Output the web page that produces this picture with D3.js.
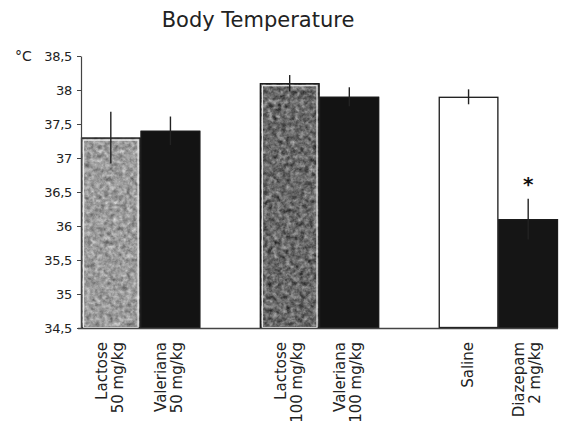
<!DOCTYPE html>
<html>
<head>
<meta charset="utf-8">
<script src="https://cdn.jsdelivr.net/npm/d3@7"></script>
<style>
  body { margin: 0; background: #fff; }
  svg { display: block; font-family: 'DejaVu Sans', sans-serif; }
</style>
</head>
<body>
<svg width="562" height="429"></svg>
<script>
//## DATA ##
const slots = ['l50', 'v50', 'gap1', 'l100', 'v100', 'gap2', 'saline', 'diazepam']
const groups = ['l50', 'v50', 'l100', 'v100', 'saline', 'diazepam']
const labels = [['Lactose', '50 mg/kg'], ['Valeriana', '50 mg/kg'], ['Lactose', '100 mg/kg'], ['Valeriana', '100 mg/kg'], ['Saline'], ['Diazepam', '2 mg/kg']]
const means = [37.3, 37.4, 38.1, 37.9, 37.9, 36.1]
const errors = [0.38, 0.21, 0.12, 0.14, 0.11, 0.3]
const significant = [false, false, false, false, false, true]
const yTicks = [34.5, 35, 35.5, 36, 36.5, 37, 37.5, 38, 38.5]

const data = groups.map((g, i) => ({ key: g, label: labels[i], mean: means[i], err: errors[i], sig: significant[i] }))

//## D3 VARIABLES ##
const svg = d3.select('svg')
const margin = { left: 81, right: 4, top: 56, bottom: 101 }
const width = 562
const height = 429
const baseY = height - margin.bottom

const styleOf = {
  l50: { fill: '#9c9c9c', filter: 'url(#noiseLight)', inner: true },
  v50: { fill: '#131313' },
  l100: { fill: '#6a6a6a', filter: 'url(#noiseDark)', inner: true },
  v100: { fill: '#131313' },
  saline: { fill: '#ffffff' },
  diazepam: { fill: '#151515' }
}

const scaleX = d3.scaleBand()
  .domain(slots)
  .range([margin.left, width - margin.right])
  .padding(0)

const scaleY = d3.scaleLinear()
  .domain([34.5, 38.5])
  .range([baseY, margin.top])

// grainy texture for the lactose bars
const defs = svg.append('defs')
const makeNoise = function(id, amount, seed) {
  const f = defs.append('filter').attr('id', id)
    .attr('x', 0).attr('y', 0).attr('width', 1).attr('height', 1)
    .attr('color-interpolation-filters', 'sRGB')
  f.append('feTurbulence').attr('type', 'fractalNoise')
    .attr('baseFrequency', 0.22).attr('numOctaves', 3).attr('seed', seed).attr('result', 'noise')
  f.append('feColorMatrix').attr('in', 'noise').attr('type', 'matrix')
    .attr('values', '0.33 0.33 0.33 0 0  0.33 0.33 0.33 0 0  0.33 0.33 0.33 0 0  0 0 0 0 1')
    .attr('result', 'grey')
  f.append('feComposite').attr('in', 'SourceGraphic').attr('in2', 'grey')
    .attr('operator', 'arithmetic').attr('k1', 0).attr('k2', 1).attr('k3', amount).attr('k4', -amount / 2)
    .attr('result', 'mix')
  f.append('feComposite').attr('in', 'mix').attr('in2', 'SourceAlpha').attr('operator', 'in')
}
makeNoise('noiseLight', 0.9, 4)
makeNoise('noiseDark', 1.1, 9)

//## TITLE ##
svg.append('text')
  .attr('x', 258)
  .attr('y', 27)
  .attr('text-anchor', 'middle')
  .style('font-size', '21px')
  .attr('fill', '#222')
  .text('Body Temperature')

//## BARS ##
const bars = svg.append('g').selectAll('g').data(data)
  .enter().append('g')

bars.append('rect')
  .attr('x', d => scaleX(d.key))
  .attr('y', d => scaleY(d.mean))
  .attr('width', scaleX.bandwidth())
  .attr('height', d => scaleY(34.5) - scaleY(d.mean))
  .attr('fill', d => styleOf[d.key].fill)
  .attr('filter', d => styleOf[d.key].filter || null)

bars.append('rect')
  .attr('x', d => scaleX(d.key) + 0.5)
  .attr('y', d => scaleY(d.mean) + 0.5)
  .attr('width', scaleX.bandwidth() - 1)
  .attr('height', d => scaleY(34.5) - scaleY(d.mean) - 1)
  .attr('fill', 'none')
  .attr('stroke', '#1a1a1a')
  .attr('stroke-width', 1.3)

bars.filter(d => styleOf[d.key].inner)
  .append('rect')
  .attr('x', d => scaleX(d.key) + 2.5)
  .attr('y', d => scaleY(d.mean) + 2.5)
  .attr('width', scaleX.bandwidth() - 5)
  .attr('height', d => scaleY(34.5) - scaleY(d.mean) - 3)
  .attr('fill', 'none')
  .attr('stroke', '#eeeeee')
  .attr('stroke-width', 1.2)

// error bars
bars.append('line')
  .attr('x1', d => scaleX(d.key) + scaleX.bandwidth() / 2)
  .attr('x2', d => scaleX(d.key) + scaleX.bandwidth() / 2)
  .attr('y1', d => scaleY(d.mean + d.err))
  .attr('y2', d => scaleY(d.mean - d.err))
  .attr('stroke', '#222')
  .attr('stroke-width', 1.4)

bars.filter(d => d.sig)
  .append('text')
  .attr('x', d => scaleX(d.key) + scaleX.bandwidth() / 2)
  .attr('y', d => scaleY(d.mean + d.err) - 8)
  .attr('text-anchor', 'middle')
  .style('font-size', '20px')
  .style('font-weight', 'bold')
  .attr('fill', '#111')
  .text('*')

//## AXES ##
const yAxis = d3.axisLeft(scaleY)
  .tickValues(yTicks)
  .tickSize(4)
  .tickSizeOuter(0)
  .tickPadding(5)
  .tickFormat(d => d3.format('~g')(d).replace('.', ','))

const yAxisGroup = svg.append('g')
  .attr('transform', 'translate(' + margin.left + ',0)')
  .call(yAxis)

yAxisGroup.select('.domain').attr('stroke', '#444').attr('stroke-width', 1.2)
yAxisGroup.selectAll('.tick line').attr('stroke', '#444')
yAxisGroup.selectAll('.tick text')
  .style('font-size', '13px')
  .style('letter-spacing', '-0.3px')
  .attr('fill', '#222')
  .attr('font-family', 'DejaVu Sans')

svg.append('text')
  .attr('x', 15)
  .attr('y', scaleY(38.5) + 5)
  .style('font-size', '14px')
  .attr('fill', '#222')
  .text('°C')

// bottom line
svg.append('line')
  .attr('x1', margin.left - 3)
  .attr('x2', scaleX.range()[1])
  .attr('y1', baseY + 0.5)
  .attr('y2', baseY + 0.5)
  .attr('stroke', '#444')
  .attr('stroke-width', 1.4)

//## CATEGORY LABELS ##
const labelGroups = svg.append('g').selectAll('text').data(data)
  .enter().append('text')
  .attr('transform', d => 'translate(' + (scaleX(d.key) + scaleX.bandwidth() / 2 - 1) + ',' + (baseY + 14) + ') rotate(-90)')
  .attr('text-anchor', 'end')
  .style('font-size', '15px')
  .attr('fill', '#222')

labelGroups.selectAll('tspan').data(d => d.label.map((t, i) => ({ t: t, off: d.label.length === 1 ? 0 : (i === 0 ? -8 : 8) })))
  .enter().append('tspan')
  .attr('x', 0)
  .attr('y', d => d.off)
  .attr('dominant-baseline', 'central')
  .text(d => d.t)
</script>
</body>
</html>
